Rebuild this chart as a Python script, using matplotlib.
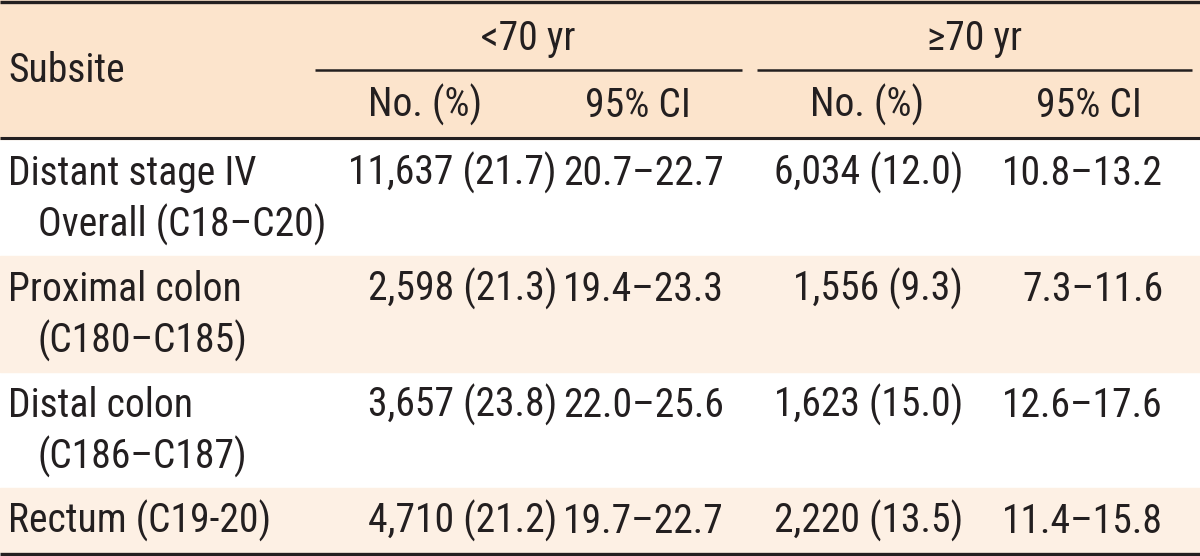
import matplotlib
matplotlib.use("Agg")
import matplotlib.pyplot as plt

# Dane tabeli
subsites = [
    ["Distant stage IV", "Overall (C18\u2013C20)"],
    ["Proximal colon", "(C180\u2013C185)"],
    ["Distal colon", "(C186\u2013C187)"],
    ["Rectum (C19-20)"],
]
young_no = ["11,637 (21.7)", "2,598 (21.3)", "3,657 (23.8)", "4,710 (21.2)"]
young_ci = ["20.7\u201322.7", "19.4\u201323.3", "22.0\u201325.6", "19.7\u201322.7"]
old_no = ["6,034 (12.0)", "1,556 (9.3)", "1,623 (15.0)", "2,220 (13.5)"]
old_ci = ["10.8\u201313.2", "7.3\u201311.6", "12.6\u201317.6", "11.4\u201315.8"]
groups = ["<70 yr", "\u226570 yr"]
sub_headers = ["No. (%)", "95% CI", "No. (%)", "95% CI"]

# Wygląd
W, H = 1200, 556
txt = "#231f20"
head_bg = "#fce4cc"
band_bg = "#fdf0e4"
font = ["Roboto Condensed", "DejaVu Sans"]
fs = 28.5

fig = plt.figure(figsize=(W / 100, H / 100), dpi=100)
ax = fig.add_axes([0, 0, 1, 1])
ax.set_xlim(0, W)
ax.set_ylim(H, 0)
ax.axis("off")


def put(x, y, s, ha):
    ax.text(x, y, s, fontsize=fs, family=font, color=txt, va="baseline", ha=ha)


# Nagłówek
ax.axhspan(0, 139, color=head_bg, zorder=0)
ax.hlines(1.5, 0, W, color=txt, lw=2.4)
ax.hlines(138, 0, W, color=txt, lw=2.2)

put(8, 82, "Subsite", "left")

group_spans = [(315, 742), (757, 1192)]
for g, (x0, x1) in zip(groups, group_spans):
    put((x0 + x1) / 2, 50, g, "center")
    ax.hlines(70, x0, x1, color=txt, lw=1.8)

sub_centers = [425, 638, 867, 1089]
for s, xc in zip(sub_headers, sub_centers):
    put(xc, 117, s, "center")

# Wiersze
right_edges = [557, 724, 963, 1163]
top = 140
for i, lines in enumerate(subsites):
    h = 116 if len(lines) > 1 else 64
    if i % 2 == 1:
        ax.axhspan(top, top + h, color=band_bg, zorder=0)
    for k, line in enumerate(lines):
        put(8 if k == 0 else 38, top + 45 + k * 52, line, "left")
    for col, xr in zip([young_no, young_ci, old_no, old_ci], right_edges):
        put(xr, top + 45, col[i], "right")
    top += h

ax.hlines(553.5, 0, W, color=txt, lw=2.4)

fig.savefig("out.png", dpi=100)
